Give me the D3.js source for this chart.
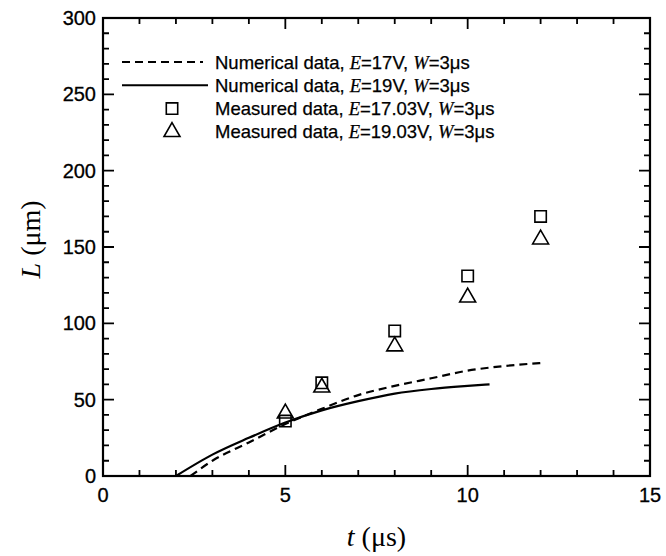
<!DOCTYPE html>
<html><head><meta charset="utf-8">
<script src="https://cdn.jsdelivr.net/npm/d3@7"></script>
<style>body{margin:0;background:#fff}svg{display:block}</style>
</head><body>
<script>
// ---- data ----
const num17T = [2.4, 3, 4, 5, 6, 7, 8, 9, 10, 11, 12];
const num17L = [0, 10, 22, 34, 44, 53, 59, 64, 69, 72, 74];
const num19T = [2, 3, 4, 5, 6, 7, 8, 9, 10, 10.6];
const num19L = [0, 14, 25, 35, 43, 49, 54, 57, 59, 60];
const measT = [5, 6, 8, 10, 12];
const meas17L = [36, 61, 95, 131, 170];
const meas19L = [41, 58, 85, 117, 155];
const xTicks = [0, 5, 10, 15];
const yTicks = [0, 50, 100, 150, 200, 250, 300];
const legendLabels = [
  ["Numerical data, ", "E", "=17V, ", "W", "=3μs"],
  ["Numerical data, ", "E", "=19V, ", "W", "=3μs"],
  ["Measured data, ", "E", "=17.03V, ", "W", "=3μs"],
  ["Measured data, ", "E", "=19.03V, ", "W", "=3μs"]
];

const W = 666, H = 556;
const m = {left: 103, right: 16, top: 18, bottom: 80};
const svg = d3.select("body").append("svg").attr("width", W).attr("height", H);
const x = d3.scaleLinear().domain([0, 15]).range([m.left, W - m.right]);
const y = d3.scaleLinear().domain([0, 300]).range([H - m.bottom, m.top]);
const sans = "'Liberation Sans', Arial, Helvetica, sans-serif";
const serif = "'Liberation Serif', 'Times New Roman', serif";

const minorX = d3.range(0, 16, 1), minorY = d3.range(0, 301, 10);
// inward ticks on all four sides, drawn as one path
const tp = d3.path();
function addX(vals, len) {
  vals.forEach(v => {
    tp.moveTo(x(v), y(0)); tp.lineTo(x(v), y(0) - len);
    tp.moveTo(x(v), y(300)); tp.lineTo(x(v), y(300) + len);
  });
}
function addY(vals, len) {
  vals.forEach(v => {
    tp.moveTo(x(0), y(v)); tp.lineTo(x(0) + len, y(v));
    tp.moveTo(x(15), y(v)); tp.lineTo(x(15) - len, y(v));
  });
}
addX(minorX, 6); addX(xTicks, 11);
addY(minorY, 6); addY(yTicks, 11);
svg.append("path").attr("d", tp.toString()).attr("fill", "none")
  .attr("stroke", "#000").attr("stroke-width", 1.8);

const lab = svg.append("g").attr("font-family", sans).attr("font-size", 20).attr("fill", "#000")
  .attr("stroke", "#000").attr("stroke-width", 0.3);
lab.selectAll("text.xl").data(xTicks).join("text").attr("class", "xl")
  .attr("x", d => x(d)).attr("y", y(0) + 26).attr("text-anchor", "middle").text(d => d);
lab.selectAll("text.yl").data(yTicks).join("text").attr("class", "yl")
  .attr("x", x(0) - 7).attr("y", d => y(d) + 7).attr("text-anchor", "end").text(d => d);

svg.append("rect").attr("x", x(0)).attr("y", y(300)).attr("width", x(15) - x(0)).attr("height", y(0) - y(300))
  .attr("fill", "none").attr("stroke", "#000").attr("stroke-width", 2.2);

// curves
const line = d3.line().x(d => x(d[0])).y(d => y(d[1])).curve(d3.curveMonotoneX);
svg.append("path").datum(d3.zip(num17T, num17L)).attr("d", line)
  .attr("fill", "none").attr("stroke", "#000").attr("stroke-width", 2.2).attr("stroke-dasharray", "8,5");
svg.append("path").datum(d3.zip(num19T, num19L)).attr("d", line)
  .attr("fill", "none").attr("stroke", "#000").attr("stroke-width", 2.2);

// markers
const sq = d3.symbol().type(d3.symbolSquare).size(130);
const tri = d3.symbol().type(d3.symbolTriangle).size(110);
svg.append("g").selectAll("path").data(d3.zip(measT, meas17L)).join("path")
  .attr("d", sq).attr("transform", d => `translate(${x(d[0])},${y(d[1])})`)
  .attr("fill", "none").attr("stroke", "#000").attr("stroke-width", 1.6);
svg.append("g").selectAll("path").data(d3.zip(measT, meas19L)).join("path")
  .attr("d", tri).attr("transform", d => `translate(${x(d[0])},${y(d[1])})`)
  .attr("fill", "none").attr("stroke", "#000").attr("stroke-width", 1.6);

// legend
const legY0 = 62, legDy = 23.3, legTextX = 215;
legendLabels.forEach((parts, i) => {
  const cy = legY0 + i * legDy;
  if (i === 0) svg.append("line").attr("x1", 122).attr("x2", 203).attr("y1", cy).attr("y2", cy)
    .attr("stroke", "#000").attr("stroke-width", 2).attr("stroke-dasharray", "8,5");
  if (i === 1) svg.append("line").attr("x1", 122).attr("x2", 208).attr("y1", cy).attr("y2", cy)
    .attr("stroke", "#000").attr("stroke-width", 2);
  if (i === 2) svg.append("path").attr("d", sq).attr("transform", `translate(172,${cy})`)
    .attr("fill", "none").attr("stroke", "#000").attr("stroke-width", 1.6);
  if (i === 3) svg.append("path").attr("d", tri).attr("transform", `translate(172,${cy})`)
    .attr("fill", "none").attr("stroke", "#000").attr("stroke-width", 1.6);
  const t = svg.append("text").attr("x", legTextX).attr("y", cy + 6.5).attr("font-size", 18.5).attr("fill", "#000")
    .attr("stroke", "#000").attr("stroke-width", 0.25);
  parts.forEach((p, j) => {
    const ital = (j === 1 || j === 3);
    t.append("tspan").text(p).attr("font-family", ital ? serif : sans).attr("font-style", ital ? "italic" : "normal");
  });
});

// axis titles
const xt = svg.append("text").attr("x", x(7.5)).attr("y", 546).attr("text-anchor", "middle")
  .attr("font-family", serif).attr("font-size", 28).attr("fill", "#000");
xt.append("tspan").text("t").attr("font-style", "italic");
xt.append("tspan").text(" (μs)");
const yt = svg.append("text").attr("transform", `translate(40,${y(155)}) rotate(-90)`).attr("text-anchor", "middle")
  .attr("font-family", serif).attr("font-size", 28).attr("fill", "#000");
yt.append("tspan").text("L").attr("font-style", "italic");
yt.append("tspan").text(" (μm)");
</script>
</body></html>
